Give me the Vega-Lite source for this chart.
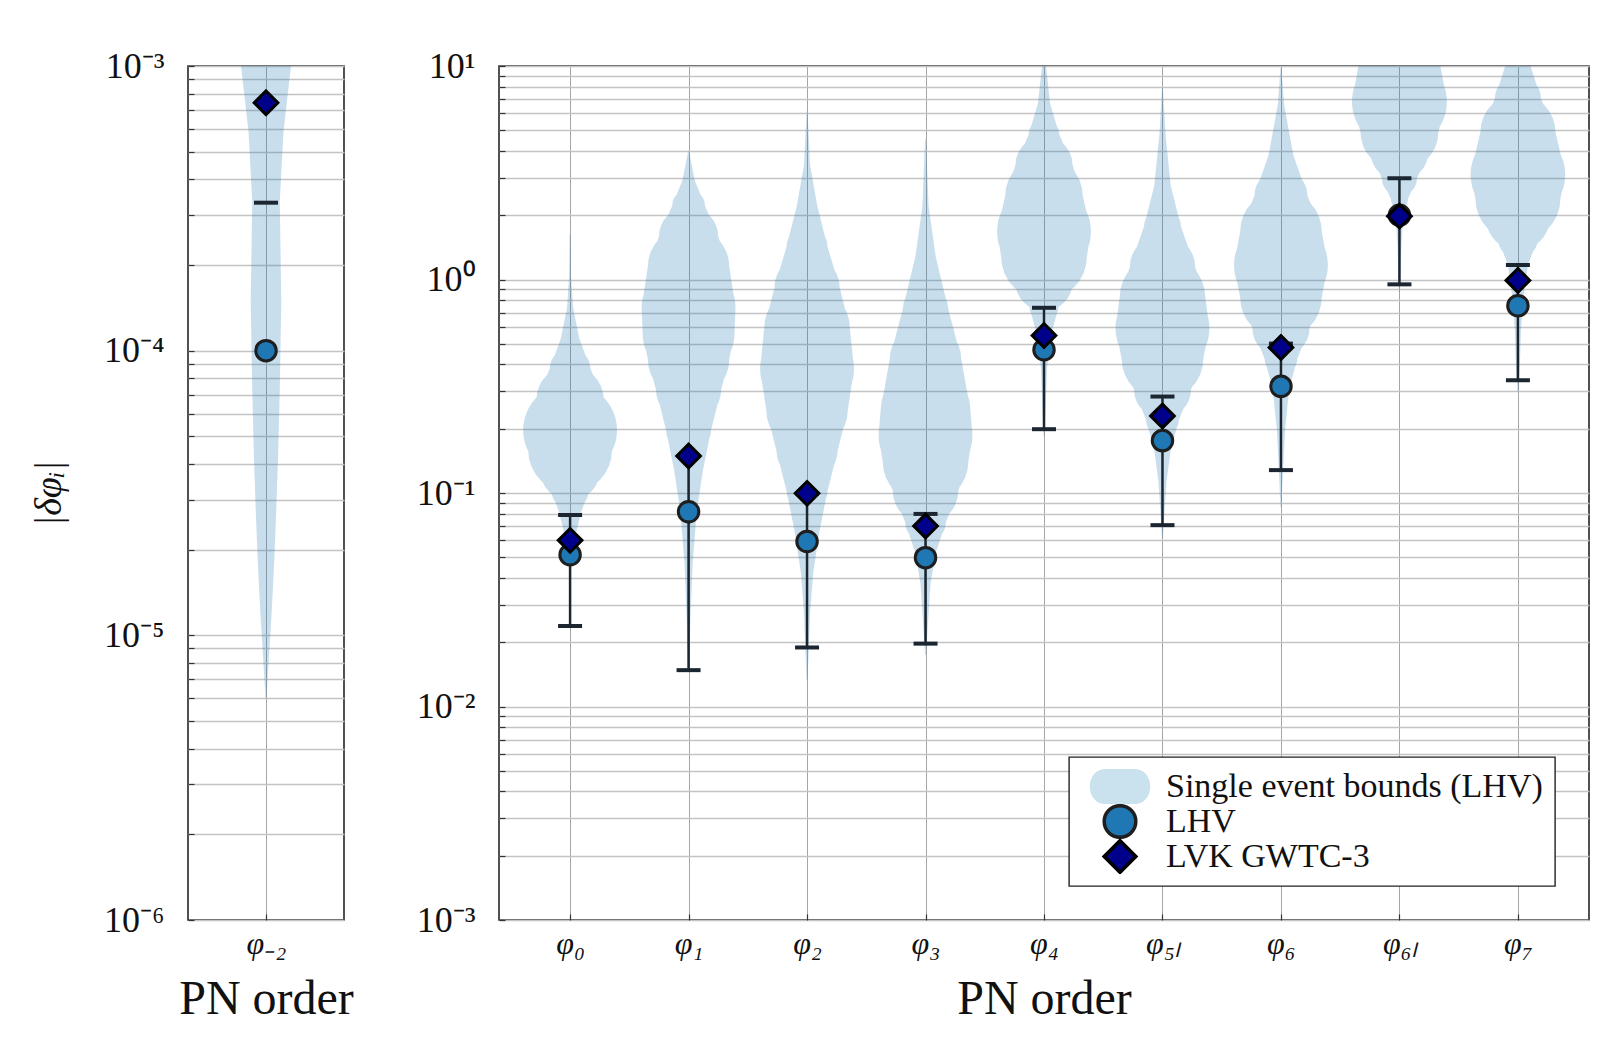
{
  "$schema": "https://vega.github.io/schema/vega-lite/v6.json",
  "background": "white",
  "padding": {"left": 29, "top": 47, "right": 8, "bottom": 8},
  "config": {
    "font": "Liberation Serif",
    "view": {"stroke": "#262626", "strokeWidth": 1.6},
    "axis": {"domain": false, "labelColor": "#111", "titleColor": "#111", "titleFontWeight": "normal", "labelFontSize": 36, "gridColor": "#c4c4c4", "gridWidth": 1.3, "tickColor": "#333", "tickWidth": 1.2, "tickSize": -6, "labelOverlap": false, "labelBound": false},
    "axisX": {"labelAngle": 0, "grid": true, "gridColor": "#a6a6a6", "gridWidth": 1, "labelPadding": 14, "labelFontSize": 32, "titleFontSize": 48, "titlePadding": 16, "labelFontStyle": "italic"},
    "axisY": {"labelPadding": 30, "titleFontSize": 38, "titlePadding": 35, "titleFontStyle": "italic"},
    "legend": {"orient": "bottom-right", "offset": 34, "padding": 12, "symbolOffset": 21, "strokeColor": "#222", "strokeWidth": 1.4, "fillColor": "#ffffff", "labelFontSize": 34, "labelColor": "#111", "labelFont": "Liberation Serif", "symbolSize": 1000, "symbolStrokeWidth": 3.5, "rowPadding": 0, "clipHeight": 35, "labelOffset": 28, "labelLimit": 0, "cornerRadius": 0}
  },
  "datasets": {
    "violins": [
      {"pn": "φ₋₂", "v": 0.00121, "d": 0.644}, {"pn": "φ₋₂", "v": 0.001, "d": 0.526}, {"pn": "φ₋₂", "v": 0.000588, "d": 0.368}, {"pn": "φ₋₂", "v": 0.000334, "d": 0.29}, {"pn": "φ₋₂", "v": 0.000149, "d": 0.322}, {"pn": "φ₋₂", "v": 0.0000731, "d": 0.29}, {"pn": "φ₋₂", "v": 0.0000446, "d": 0.258}, {"pn": "φ₋₂", "v": 0.0000272, "d": 0.215}, {"pn": "φ₋₂", "v": 0.000018, "d": 0.172}, {"pn": "φ₋₂", "v": 0.0000119, "d": 0.118}, {"pn": "φ₋₂", "v": 0.00000855, "d": 0.064}, {"pn": "φ₋₂", "v": 0.000006, "d": 0},
      {"pn": "φ₀", "v": 1.63, "d": 0}, {"pn": "φ₀", "v": 1.03, "d": 0.021}, {"pn": "φ₀", "v": 0.737, "d": 0.064}, {"pn": "φ₀", "v": 0.53, "d": 0.193}, {"pn": "φ₀", "v": 0.381, "d": 0.43}, {"pn": "φ₀", "v": 0.274, "d": 0.709}, {"pn": "φ₀", "v": 0.197, "d": 0.988}, {"pn": "φ₀", "v": 0.158, "d": 0.881}, {"pn": "φ₀", "v": 0.127, "d": 0.623}, {"pn": "φ₀", "v": 0.102, "d": 0.387}, {"pn": "φ₀", "v": 0.0816, "d": 0.236}, {"pn": "φ₀", "v": 0.0655, "d": 0.129}, {"pn": "φ₀", "v": 0.0525, "d": 0.064}, {"pn": "φ₀", "v": 0.0422, "d": 0},
      {"pn": "φ₁", "v": 3.97, "d": 0}, {"pn": "φ₁", "v": 2.92, "d": 0.129}, {"pn": "φ₁", "v": 2.215, "d": 0.344}, {"pn": "φ₁", "v": 1.592, "d": 0.623}, {"pn": "φ₁", "v": 1.144, "d": 0.859}, {"pn": "φ₁", "v": 0.737, "d": 0.988}, {"pn": "φ₁", "v": 0.56, "d": 0.967}, {"pn": "φ₁", "v": 0.425, "d": 0.859}, {"pn": "φ₁", "v": 0.3055, "d": 0.687}, {"pn": "φ₁", "v": 0.197, "d": 0.473}, {"pn": "φ₁", "v": 0.127, "d": 0.301}, {"pn": "φ₁", "v": 0.0816, "d": 0.172}, {"pn": "φ₁", "v": 0.047, "d": 0.086}, {"pn": "φ₁", "v": 0.0271, "d": 0.043}, {"pn": "φ₁", "v": 0.0165, "d": 0},
      {"pn": "φ₂", "v": 6.1, "d": 0}, {"pn": "φ₂", "v": 3.44, "d": 0.064}, {"pn": "φ₂", "v": 2.215, "d": 0.215}, {"pn": "φ₂", "v": 1.426, "d": 0.43}, {"pn": "φ₂", "v": 0.918, "d": 0.687}, {"pn": "φ₂", "v": 0.591, "d": 0.902}, {"pn": "φ₂", "v": 0.381, "d": 0.988}, {"pn": "φ₂", "v": 0.245, "d": 0.859}, {"pn": "φ₂", "v": 0.158, "d": 0.644}, {"pn": "φ₂", "v": 0.102, "d": 0.43}, {"pn": "φ₂", "v": 0.0655, "d": 0.258}, {"pn": "φ₂", "v": 0.0422, "d": 0.129}, {"pn": "φ₂", "v": 0.0271, "d": 0.064}, {"pn": "φ₂", "v": 0.0175, "d": 0.032}, {"pn": "φ₂", "v": 0.0133, "d": 0},
      {"pn": "φ₃", "v": 4.53, "d": 0}, {"pn": "φ₃", "v": 2.215, "d": 0.064}, {"pn": "φ₃", "v": 1.277, "d": 0.215}, {"pn": "φ₃", "v": 0.737, "d": 0.473}, {"pn": "φ₃", "v": 0.425, "d": 0.752}, {"pn": "φ₃", "v": 0.245, "d": 0.945}, {"pn": "φ₃", "v": 0.186, "d": 0.988}, {"pn": "φ₃", "v": 0.141, "d": 0.902}, {"pn": "φ₃", "v": 0.102, "d": 0.687}, {"pn": "φ₃", "v": 0.0731, "d": 0.43}, {"pn": "φ₃", "v": 0.0525, "d": 0.215}, {"pn": "φ₃", "v": 0.0378, "d": 0.107}, {"pn": "φ₃", "v": 0.0271, "d": 0.064}, {"pn": "φ₃", "v": 0.0175, "d": 0},
      {"pn": "φ₄", "v": 12.9, "d": 0}, {"pn": "φ₄", "v": 10, "d": 0.043}, {"pn": "φ₄", "v": 6.65, "d": 0.129}, {"pn": "φ₄", "v": 4.78, "d": 0.322}, {"pn": "φ₄", "v": 3.44, "d": 0.601}, {"pn": "φ₄", "v": 2.47, "d": 0.816}, {"pn": "φ₄", "v": 1.68, "d": 0.988}, {"pn": "φ₄", "v": 1.277, "d": 0.902}, {"pn": "φ₄", "v": 0.97, "d": 0.601}, {"pn": "φ₄", "v": 0.737, "d": 0.301}, {"pn": "φ₄", "v": 0.53, "d": 0.129}, {"pn": "φ₄", "v": 0.381, "d": 0.064}, {"pn": "φ₄", "v": 0.245, "d": 0.032}, {"pn": "φ₄", "v": 0.186, "d": 0},
      {"pn": "φ₅ₗ", "v": 7.85, "d": 0}, {"pn": "φ₅ₗ", "v": 4.78, "d": 0.064}, {"pn": "φ₅ₗ", "v": 2.76, "d": 0.172}, {"pn": "φ₅ₗ", "v": 1.777, "d": 0.387}, {"pn": "φ₅ₗ", "v": 1.144, "d": 0.687}, {"pn": "φ₅ₗ", "v": 0.823, "d": 0.902}, {"pn": "φ₅ₗ", "v": 0.591, "d": 0.988}, {"pn": "φ₅ₗ", "v": 0.425, "d": 0.859}, {"pn": "φ₅ₗ", "v": 0.3055, "d": 0.601}, {"pn": "φ₅ₗ", "v": 0.2197, "d": 0.344}, {"pn": "φ₅ₗ", "v": 0.158, "d": 0.172}, {"pn": "φ₅ₗ", "v": 0.1135, "d": 0.086}, {"pn": "φ₅ₗ", "v": 0.0816, "d": 0.043}, {"pn": "φ₅ₗ", "v": 0.062, "d": 0},
      {"pn": "φ₆", "v": 9.78, "d": 0}, {"pn": "φ₆", "v": 6.65, "d": 0.064}, {"pn": "φ₆", "v": 3.84, "d": 0.258}, {"pn": "φ₆", "v": 2.47, "d": 0.559}, {"pn": "φ₆", "v": 1.68, "d": 0.859}, {"pn": "φ₆", "v": 1.17, "d": 0.988}, {"pn": "φ₆", "v": 0.823, "d": 0.859}, {"pn": "φ₆", "v": 0.591, "d": 0.601}, {"pn": "φ₆", "v": 0.425, "d": 0.344}, {"pn": "φ₆", "v": 0.3055, "d": 0.172}, {"pn": "φ₆", "v": 0.197, "d": 0.086}, {"pn": "φ₆", "v": 0.127, "d": 0.043}, {"pn": "φ₆", "v": 0.0862, "d": 0},
      {"pn": "φ₆ₗ", "v": 16, "d": 0.6}, {"pn": "φ₆ₗ", "v": 13, "d": 0.74}, {"pn": "φ₆ₗ", "v": 10, "d": 0.863}, {"pn": "φ₆ₗ", "v": 6.81, "d": 1.0}, {"pn": "φ₆ₗ", "v": 4.92, "d": 0.821}, {"pn": "φ₆ₗ", "v": 3.97, "d": 0.611}, {"pn": "φ₆ₗ", "v": 2.97, "d": 0.368}, {"pn": "φ₆ₗ", "v": 2.39, "d": 0.183}, {"pn": "φ₆ₗ", "v": 1.93, "d": 0.078}, {"pn": "φ₆ₗ", "v": 1.455, "d": 0.042}, {"pn": "φ₆ₗ", "v": 0.877, "d": 0},
      {"pn": "φ₇", "v": 13, "d": 0.126}, {"pn": "φ₇", "v": 10, "d": 0.267}, {"pn": "φ₇", "v": 7.05, "d": 0.484}, {"pn": "φ₇", "v": 4.92, "d": 0.789}, {"pn": "φ₇", "v": 3.1, "d": 0.996}, {"pn": "φ₇", "v": 2.39, "d": 0.895}, {"pn": "φ₇", "v": 1.93, "d": 0.667}, {"pn": "φ₇", "v": 1.553, "d": 0.421}, {"pn": "φ₇", "v": 1.173, "d": 0.211}, {"pn": "φ₇", "v": 0.813, "d": 0.112}, {"pn": "φ₇", "v": 0.569, "d": 0.063}, {"pn": "φ₇", "v": 0.399, "d": 0.042}, {"pn": "φ₇", "v": 0.298, "d": 0}
    ],
    "points": [
      {"pn": "φ₋₂", "series": "LHV", "v": 0.0001}, {"pn": "φ₀", "series": "LHV", "v": 0.0514}, {"pn": "φ₁", "series": "LHV", "v": 0.0817}, {"pn": "φ₂", "series": "LHV", "v": 0.0593}, {"pn": "φ₃", "series": "LHV", "v": 0.0498}, {"pn": "φ₄", "series": "LHV", "v": 0.469}, {"pn": "φ₅ₗ", "series": "LHV", "v": 0.176}, {"pn": "φ₆", "series": "LHV", "v": 0.316}, {"pn": "φ₆ₗ", "series": "LHV", "v": 2.0}, {"pn": "φ₇", "series": "LHV", "v": 0.753},
      {"pn": "φ₋₂", "series": "LVK GWTC-3", "v": 0.000743}, {"pn": "φ₀", "series": "LVK GWTC-3", "v": 0.06}, {"pn": "φ₁", "series": "LVK GWTC-3", "v": 0.149}, {"pn": "φ₂", "series": "LVK GWTC-3", "v": 0.0996}, {"pn": "φ₃", "series": "LVK GWTC-3", "v": 0.07}, {"pn": "φ₄", "series": "LVK GWTC-3", "v": 0.547}, {"pn": "φ₅ₗ", "series": "LVK GWTC-3", "v": 0.2296}, {"pn": "φ₆", "series": "LVK GWTC-3", "v": 0.48}, {"pn": "φ₆ₗ", "series": "LVK GWTC-3", "v": 1.98}, {"pn": "φ₇", "series": "LVK GWTC-3", "v": 0.99}
    ],
    "bars": [
      {"pn": "φ₋₂", "lo": null, "hi": 0.000331},
      {"pn": "φ₀", "lo": 0.0238, "hi": 0.0789}, {"pn": "φ₁", "lo": 0.0148, "hi": 0.149}, {"pn": "φ₂", "lo": 0.0189, "hi": 0.0996}, {"pn": "φ₃", "lo": 0.0197, "hi": 0.0798}, {"pn": "φ₄", "lo": 0.199, "hi": 0.737}, {"pn": "φ₅ₗ", "lo": 0.0707, "hi": 0.283}, {"pn": "φ₆", "lo": 0.128, "hi": 0.501}, {"pn": "φ₆ₗ", "lo": 0.949, "hi": 2.98}, {"pn": "φ₇", "lo": 0.337, "hi": 1.17}
    ]
  },
  "bounds": "flush",
  "spacing": 155,
  "resolve": {"scale": {"shape": "independent", "fill": "independent", "stroke": "independent"}, "legend": {"shape": "independent", "fill": "independent", "stroke": "independent", "size": "independent"}},
  "hconcat": [
    {
      "width": 156,
      "height": 854,
      "layer": [
        {
          "data": {"name": "violins"},
          "transform": [{"filter": {"field": "pn", "equal": "φ₋₂"}}],
          "mark": {"type": "trail", "clip": true, "color": "#1f77b4", "opacity": 0.24},
          "encoding": {
            "x": {"field": "pn", "type": "nominal", "title": "PN order", "scale": {"type": "point", "domain": ["φ₋₂"], "padding": 0.6}},
            "y": {"field": "v", "type": "quantitative", "title": "|δφᵢ|", "scale": {"type": "log", "domain": [0.000001, 0.001], "nice": false},
                  "axis": {"values": [0.000001, 0.000002, 0.000003, 0.000004, 0.000005, 0.000006, 0.000007, 0.000008, 0.000009, 0.00001, 0.00002, 0.00003, 0.00004, 0.00005, 0.00006, 0.00007, 0.00008, 0.00009, 0.0001, 0.0002, 0.0003, 0.0004, 0.0005, 0.0006, 0.0007, 0.0008, 0.0009, 0.001],
                           "labelExpr": "datum.value == 0.000001 ? '10⁻⁶' : datum.value == 0.00001 ? '10⁻⁵' : datum.value == 0.0001 ? '10⁻⁴' : datum.value == 0.001 ? '10⁻³' : ''"}},
            "size": {"field": "d", "type": "quantitative", "scale": {"domain": [0, 1], "range": [0, 95]}, "legend": null},
            "detail": {"field": "pn"},
            "order": {"field": "v", "type": "quantitative"}
          }
        },
        {
          "data": {"name": "bars"},
          "transform": [{"filter": {"field": "pn", "equal": "φ₋₂"}}],
          "mark": {"type": "tick", "color": "#1b2631", "thickness": 4, "size": 24, "opacity": 1},
          "encoding": {
            "x": {"field": "pn", "type": "nominal", "title": "PN order"},
            "y": {"field": "hi", "type": "quantitative", "title": "|δφᵢ|"}
          }
        },
        {
          "data": {"name": "points"},
          "transform": [{"filter": {"and": [{"field": "pn", "equal": "φ₋₂"}, {"field": "series", "equal": "LHV"}]}}],
          "mark": {"type": "point", "shape": "circle", "filled": true, "size": 420, "color": "#1f77b4", "stroke": "#1e1e1e", "strokeWidth": 3, "opacity": 1},
          "encoding": {
            "x": {"field": "pn", "type": "nominal", "title": "PN order"},
            "y": {"field": "v", "type": "quantitative", "title": "|δφᵢ|"}
          }
        },
        {
          "data": {"name": "points"},
          "transform": [{"filter": {"and": [{"field": "pn", "equal": "φ₋₂"}, {"field": "series", "equal": "LVK GWTC-3"}]}}],
          "mark": {"type": "point", "shape": "diamond", "filled": true, "size": 560, "color": "#00008b", "stroke": "#000000", "strokeWidth": 3, "opacity": 1},
          "encoding": {
            "x": {"field": "pn", "type": "nominal", "title": "PN order"},
            "y": {"field": "v", "type": "quantitative", "title": "|δφᵢ|"}
          }
        }
      ]
    },
    {
      "width": 1090,
      "height": 854,
      "layer": [
        {
          "data": {"name": "violins"},
          "transform": [{"filter": {"not": {"field": "pn", "equal": "φ₋₂"}}}],
          "mark": {"type": "trail", "clip": true, "color": "#1f77b4", "opacity": 0.24},
          "encoding": {
            "x": {"field": "pn", "type": "nominal", "title": "PN order", "scale": {"type": "point", "domain": ["φ₀", "φ₁", "φ₂", "φ₃", "φ₄", "φ₅ₗ", "φ₆", "φ₆ₗ", "φ₇"], "padding": 0.6}},
            "y": {"field": "v", "type": "quantitative", "title": null, "scale": {"type": "log", "domain": [0.001, 10], "nice": false},
                  "axis": {"values": [0.001, 0.002, 0.003, 0.004, 0.005, 0.006, 0.007, 0.008, 0.009, 0.01, 0.02, 0.03, 0.04, 0.05, 0.06, 0.07, 0.08, 0.09, 0.1, 0.2, 0.3, 0.4, 0.5, 0.6, 0.7, 0.8, 0.9, 1, 2, 3, 4, 5, 6, 7, 8, 9, 10],
                           "labelExpr": "datum.value == 0.001 ? '10⁻³' : datum.value == 0.01 ? '10⁻²' : datum.value == 0.1 ? '10⁻¹' : datum.value == 1 ? '10⁰' : datum.value == 10 ? '10¹' : ''"}},
            "size": {"field": "d", "type": "quantitative", "scale": {"domain": [0, 1], "range": [0, 95]}, "legend": null},
            "detail": {"field": "pn"},
            "order": {"field": "v", "type": "quantitative"}
          }
        },
        {
          "data": {"name": "bars"},
          "transform": [{"filter": {"not": {"field": "pn", "equal": "φ₋₂"}}}],
          "mark": {"type": "rule", "color": "#1b2631", "strokeWidth": 2.5},
          "encoding": {
            "x": {"field": "pn", "type": "nominal", "title": "PN order"},
            "y": {"field": "lo", "type": "quantitative", "title": null},
            "y2": {"field": "hi"}
          }
        },
        {
          "data": {"name": "bars"},
          "transform": [{"filter": {"not": {"field": "pn", "equal": "φ₋₂"}}}],
          "mark": {"type": "tick", "color": "#1b2631", "thickness": 4, "size": 24, "opacity": 1},
          "encoding": {
            "x": {"field": "pn", "type": "nominal", "title": "PN order"},
            "y": {"field": "hi", "type": "quantitative", "title": null}
          }
        },
        {
          "data": {"name": "bars"},
          "transform": [{"filter": {"not": {"field": "pn", "equal": "φ₋₂"}}}],
          "mark": {"type": "tick", "color": "#1b2631", "thickness": 4, "size": 24, "opacity": 1},
          "encoding": {
            "x": {"field": "pn", "type": "nominal", "title": "PN order"},
            "y": {"field": "lo", "type": "quantitative", "title": null}
          }
        },
        {
          "data": {"name": "points"},
          "transform": [{"filter": {"and": [{"not": {"field": "pn", "equal": "φ₋₂"}}, {"field": "series", "equal": "LHV"}]}}],
          "mark": {"type": "point", "filled": true, "size": 420, "strokeWidth": 3, "opacity": 1},
          "encoding": {
            "x": {"field": "pn", "type": "nominal", "title": "PN order"},
            "y": {"field": "v", "type": "quantitative", "title": null},
            "shape": {"field": "series", "type": "nominal", "scale": {"domain": ["Single event bounds (LHV)", "LHV", "LVK GWTC-3"], "range": ["M -0.9,-1 L 0.9,-1 C 2.1,-1 2.1,1 0.9,1 L -0.9,1 C -2.1,1 -2.1,-1 -0.9,-1 Z", "circle", "diamond"]}, "legend": {"title": null}},
            "fill": {"field": "series", "type": "nominal", "scale": {"domain": ["Single event bounds (LHV)", "LHV", "LVK GWTC-3"], "range": ["#cae1ee", "#1f77b4", "#00008b"]}, "legend": {"title": null}},
            "stroke": {"field": "series", "type": "nominal", "scale": {"domain": ["Single event bounds (LHV)", "LHV", "LVK GWTC-3"], "range": ["#cae1ee", "#1e1e1e", "#000000"]}, "legend": {"title": null}}
          }
        },
        {
          "data": {"name": "points"},
          "transform": [{"filter": {"and": [{"not": {"field": "pn", "equal": "φ₋₂"}}, {"field": "series", "equal": "LVK GWTC-3"}]}}],
          "mark": {"type": "point", "filled": true, "size": 560, "strokeWidth": 3, "opacity": 1},
          "encoding": {
            "x": {"field": "pn", "type": "nominal", "title": "PN order"},
            "y": {"field": "v", "type": "quantitative", "title": null},
            "shape": {"field": "series", "type": "nominal", "scale": {"domain": ["Single event bounds (LHV)", "LHV", "LVK GWTC-3"], "range": ["M -0.9,-1 L 0.9,-1 C 2.1,-1 2.1,1 0.9,1 L -0.9,1 C -2.1,1 -2.1,-1 -0.9,-1 Z", "circle", "diamond"]}, "legend": {"title": null}},
            "fill": {"field": "series", "type": "nominal", "scale": {"domain": ["Single event bounds (LHV)", "LHV", "LVK GWTC-3"], "range": ["#cae1ee", "#1f77b4", "#00008b"]}, "legend": {"title": null}},
            "stroke": {"field": "series", "type": "nominal", "scale": {"domain": ["Single event bounds (LHV)", "LHV", "LVK GWTC-3"], "range": ["#cae1ee", "#1e1e1e", "#000000"]}, "legend": {"title": null}}
          }
        }
      ]
    }
  ]
}
